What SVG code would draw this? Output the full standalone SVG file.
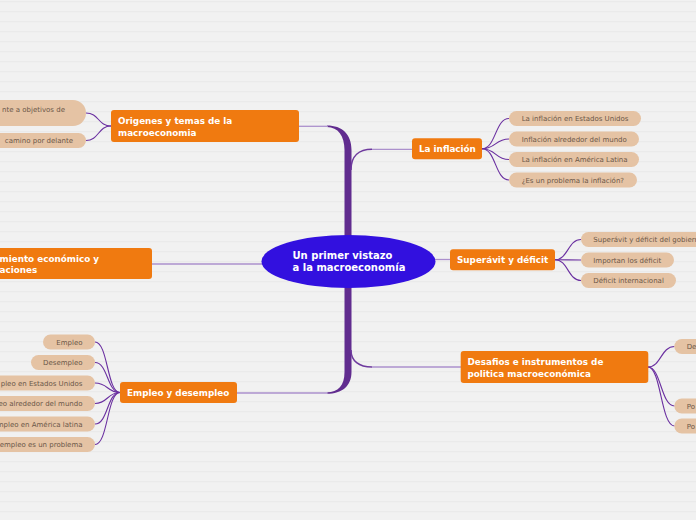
<svg xmlns="http://www.w3.org/2000/svg" width="696" height="520" viewBox="0 0 696 520">
<defs>
<pattern id="bg" width="696" height="10" patternUnits="userSpaceOnUse">
<rect width="696" height="10" fill="#f1f1f1"/>
<rect y="1" width="696" height="1.2" fill="#eaeaea"/>
</pattern>
<style>
.main{fill:#f07a10}
.mt{font-family:"DejaVu Sans",Verdana,sans-serif;font-weight:bold;font-size:8.8px;fill:#ffffff}
.leaf{fill:#e5c3a4}
.lt{font-family:"DejaVu Sans",Verdana,sans-serif;font-size:7px;fill:#6b5748}
.ct{font-family:"DejaVu Sans",Verdana,sans-serif;font-weight:bold;font-size:10px;fill:#ffffff}
.br{fill:none;stroke:#ab90cc;stroke-width:1.3}
.bc{fill:none;stroke:#6e3a9e;stroke-width:1.5}
.lc{fill:none;stroke:#6a2fa0;stroke-width:1.1}
</style>
</defs>
<rect width="696" height="520" fill="url(#bg)"/>

<g id="connectors">
<path fill="#612c8f" d="M327 125.5 C342 125.5 351.5 134 351.5 150 V372 C351.5 386 342 393.8 327 393.8 L327 392.2 C338 392.2 344.5 386 344.5 372 V150 C344.5 136 338 127 327 127 Z"/>
<path class="br" d="M299 126.3 H328"/>
<path class="br" d="M237 393 H328"/>
<path class="bc" d="M351 170 C351 156 359 149.3 372 149.3"/>
<path class="br" d="M372 149.3 H412"/>
<path class="bc" d="M351 350 C351 361 359 367 372 367"/>
<path class="br" d="M372 367 H461"/>
<path class="br" d="M152 264 H263"/>
<path class="br" d="M435 259.5 H450"/>
<path class="lc" d="M111 126 C98 126 99 113 86 113"/>
<path class="lc" d="M111 126 C98 126 99 140.5 86 140.5"/>
<path class="lc" d="M482 148.7 C496 148.7 495 118.5 509 118.5"/>
<path class="lc" d="M482 148.7 C496 148.7 495 139 509 139"/>
<path class="lc" d="M482 148.7 C496 148.7 495 159.5 509 159.5"/>
<path class="lc" d="M482 148.7 C496 148.7 495 180 509 180"/>
<path class="lc" d="M555 259.7 C568 259.7 568 239.5 581 239.5"/>
<path class="lc" d="M555 259.7 C568 259.7 568 260 581 260"/>
<path class="lc" d="M555 259.7 C568 259.7 568 280.5 581 280.5"/>
<path class="lc" d="M648 367 C661 367 661 346.5 674.5 346.5"/>
<path class="lc" d="M648 367 C661 367 661 406 674.5 406"/>
<path class="lc" d="M648 367 C661 367 661 426 674.5 426"/>
<path class="lc" d="M120 392.5 C107 392.5 108 342 95 342"/>
<path class="lc" d="M120 392.5 C107 392.5 108 362.5 95 362.5"/>
<path class="lc" d="M120 392.5 C107 392.5 108 383 95 383"/>
<path class="lc" d="M120 392.5 C107 392.5 108 403.5 95 403.5"/>
<path class="lc" d="M120 392.5 C107 392.5 108 424 95 424"/>
<path class="lc" d="M120 392.5 C107 392.5 108 444.5 95 444.5"/>
</g>

<g id="center">
<ellipse cx="348.5" cy="261.5" rx="87" ry="26.5" fill="#3210df"/>
<text class="ct" x="292.5" y="259">Un primer vistazo</text>
<text class="ct" x="292.5" y="271">a la macroeconomía</text>
</g>

<g id="origenes">
<rect class="main" x="111" y="110" width="188" height="32" rx="3"/>
<text class="mt" x="118" y="124">Origenes y temas de la</text>
<text class="mt" x="118" y="135.5">macroeconomia</text>
</g>
<g id="origenes-1">
<rect class="leaf" x="-30" y="100" width="116" height="26" rx="13"/>
<text class="lt" x="65" y="112" text-anchor="end">nte a objetivos de</text>
</g>
<g id="origenes-2">
<rect class="leaf" x="-30" y="133" width="116" height="15" rx="7.5"/>
<text class="lt" x="73" y="143" text-anchor="end">camino por delante</text>
</g>

<g id="crecimiento">
<rect class="main" x="-20" y="248" width="172" height="31" rx="3"/>
<text class="mt" x="-0.5" y="262">miento económico y</text>
<text class="mt" x="-0.5" y="273">aciones</text>
</g>

<g id="empleo">
<rect class="main" x="120" y="382" width="117" height="21" rx="3"/>
<text class="mt" x="127" y="396">Empleo y desempleo</text>
</g>
<g id="empleo-1">
<rect class="leaf" x="43" y="334.5" width="52" height="15" rx="7.5"/>
<text class="lt" x="82.5" y="344.5" text-anchor="end">Empleo</text>
</g>
<g id="empleo-2">
<rect class="leaf" x="31" y="355" width="64" height="15" rx="7.5"/>
<text class="lt" x="82.5" y="365" text-anchor="end">Desempleo</text>
</g>
<g id="empleo-3">
<rect class="leaf" x="-30" y="375.5" width="125" height="15" rx="7.5"/>
<text class="lt" x="82.5" y="385.5" text-anchor="end">pleo en Estados Unidos</text>
</g>
<g id="empleo-4">
<rect class="leaf" x="-30" y="396" width="125" height="15" rx="7.5"/>
<text class="lt" x="82.5" y="406" text-anchor="end">eo alrededor del mundo</text>
</g>
<g id="empleo-5">
<rect class="leaf" x="-30" y="416.5" width="125" height="15" rx="7.5"/>
<text class="lt" x="82.5" y="426.5" text-anchor="end">mpleo en América latina</text>
</g>
<g id="empleo-6">
<rect class="leaf" x="-30" y="437" width="125" height="15" rx="7.5"/>
<text class="lt" x="82.5" y="447" text-anchor="end">empleo es un problema</text>
</g>

<g id="inflacion">
<rect class="main" x="412" y="138.3" width="70" height="21" rx="3"/>
<text class="mt" x="419" y="152">La inflación</text>
</g>
<g id="inflacion-1">
<rect class="leaf" x="509" y="111" width="132" height="15" rx="7.5"/>
<text class="lt" x="521.7" y="121">La inflación en Estados Unidos</text>
</g>
<g id="inflacion-2">
<rect class="leaf" x="509" y="131.5" width="130" height="15" rx="7.5"/>
<text class="lt" x="521.7" y="141.5">Inflación alrededor del mundo</text>
</g>
<g id="inflacion-3">
<rect class="leaf" x="509" y="152" width="130" height="15" rx="7.5"/>
<text class="lt" x="521.7" y="162">La inflación en América Latina</text>
</g>
<g id="inflacion-4">
<rect class="leaf" x="509" y="172.5" width="128" height="15" rx="7.5"/>
<text class="lt" x="521.7" y="182.5">¿Es un problema la inflación?</text>
</g>

<g id="superavit">
<rect class="main" x="450" y="249.3" width="105" height="21" rx="3"/>
<text class="mt" x="457" y="263">Superávit y déficit</text>
</g>
<g id="superavit-1">
<rect class="leaf" x="581" y="232" width="140" height="15" rx="7.5"/>
<text class="lt" x="593.3" y="242">Superávit y déficit del gobierno</text>
</g>
<g id="superavit-2">
<rect class="leaf" x="581" y="252.5" width="93" height="15" rx="7.5"/>
<text class="lt" x="593.3" y="262.5">Importan los déficit</text>
</g>
<g id="superavit-3">
<rect class="leaf" x="581" y="273" width="95" height="15" rx="7.5"/>
<text class="lt" x="593.3" y="283">Déficit internacional</text>
</g>

<g id="desafios">
<rect class="main" x="460.7" y="351" width="187.6" height="32" rx="3"/>
<text class="mt" x="467.5" y="365">Desafios e instrumentos de</text>
<text class="mt" x="467.5" y="376.5">politica macroeconómica</text>
</g>
<g id="desafios-1">
<rect class="leaf" x="674.3" y="339" width="60" height="15" rx="7.5"/>
<text class="lt" x="686.7" y="349">De</text>
</g>
<g id="desafios-2">
<rect class="leaf" x="674.3" y="398.5" width="60" height="15" rx="7.5"/>
<text class="lt" x="686.7" y="408.5">Po</text>
</g>
<g id="desafios-3">
<rect class="leaf" x="674.3" y="418.5" width="60" height="15" rx="7.5"/>
<text class="lt" x="686.7" y="428.5">Po</text>
</g>
</svg>
